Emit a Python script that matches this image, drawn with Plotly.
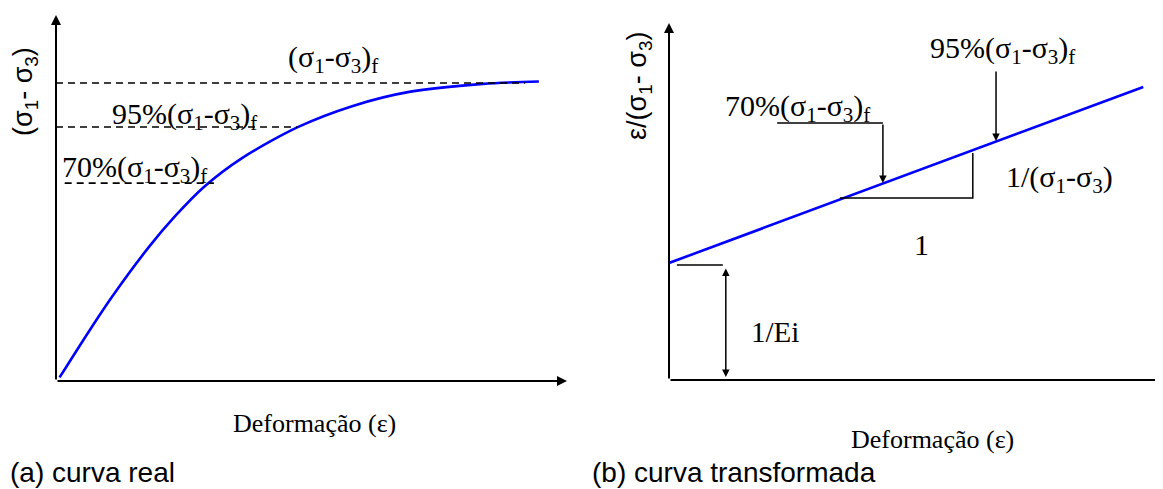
import plotly.graph_objects as go

# page is shown with the browser's default 8px body margin
OFF = 8
PAGE_W, PAGE_H = 1163, 489
W, H = PAGE_W - OFF, PAGE_H - OFF

# ---------------- data (arbitrary units) ----------------
# (a) real curve: deviator stress vs strain
left_strain = [0.07, 0.65, 1.09, 1.82, 2.33, 2.90, 3.64, 4.72, 5.81, 6.91, 8.36, 9.45]
left_stress = [0.012, 0.168, 0.281, 0.450, 0.553, 0.652, 0.748, 0.851, 0.923, 0.970, 0.997, 1.005]
# reference levels: failure, 95 %, 70 %
ref_levels = [1.0, 0.852, 0.664]
ref_x_start = [0.0, 0.0, 0.17]
ref_x_end = [9.18, 4.72, 3.09]
ref_labels = ["(σ<sub>1</sub>-σ<sub>3</sub>)<sub>f</sub>",
              "95%(σ<sub>1</sub>-σ<sub>3</sub>)<sub>f</sub>",
              "70%(σ<sub>1</sub>-σ<sub>3</sub>)<sub>f</sub>"]

# (b) transformed curve: strain/(deviator stress) vs strain
right_strain = [0.0, 9.6]
right_ratio = [1.17, 2.93]
intercept = 1.15            # 1/Ei
tri_x = [3.46, 6.15, 6.15]  # slope triangle
tri_y = [1.82, 1.82, 2.27]
p70_x, p70_y = 4.33, 1.97
p95_x, p95_y = 6.62, 2.39

left_range_x, left_range_y = [0, 10], [0, 1.228]
right_range_x, right_range_y = [0, 10], [0, 3.57]

SERIF = "Liberation Serif"
SANS = "Liberation Sans"
BLUE = "#0000ff"


def px(xp):
    return (xp - OFF) / W


def py(yp):
    return 1 - (yp - OFF) / H


fig = go.Figure()

# blue curves
fig.add_trace(go.Scatter(x=left_strain, y=left_stress, mode="lines",
                         line=dict(color=BLUE, width=2.6, shape="spline", smoothing=0.8),
                         xaxis="x", yaxis="y", hoverinfo="skip"))
fig.add_trace(go.Scatter(x=right_strain, y=right_ratio, mode="lines",
                         line=dict(color=BLUE, width=2.6),
                         xaxis="x2", yaxis="y2", hoverinfo="skip"))

# dashed reference lines
for lv, xs, xe in zip(ref_levels, ref_x_start, ref_x_end):
    fig.add_trace(go.Scatter(x=[xs, xe], y=[lv, lv], mode="lines",
                             line=dict(color="black", width=1.6, dash="7px,5px"),
                             xaxis="x", yaxis="y", hoverinfo="skip"))

# slope triangle
fig.add_trace(go.Scatter(x=tri_x, y=tri_y, mode="lines",
                         line=dict(color="black", width=1.5),
                         xaxis="x2", yaxis="y2", hoverinfo="skip"))
# 70% leader (horizontal part)
fig.add_trace(go.Scatter(x=[2.19, p70_x], y=[2.57, 2.57], mode="lines",
                         line=dict(color="black", width=1.5),
                         xaxis="x2", yaxis="y2", hoverinfo="skip"))
# intercept tick
fig.add_trace(go.Scatter(x=[0.16, 1.09], y=[intercept, intercept], mode="lines",
                         line=dict(color="black", width=1.5),
                         xaxis="x2", yaxis="y2", hoverinfo="skip"))

ann = []


def arrow(x, y, ax, ay, xr, yr, w=2, size=1.0, head=2, side="end"):
    ann.append(dict(x=x, y=y, ax=ax, ay=ay, xref=xr, yref=yr, axref=xr, ayref=yr,
                    text="", showarrow=True, arrowhead=head, arrowsize=size,
                    arrowwidth=w, arrowcolor="black", arrowside=side,
                    startarrowhead=head, startarrowsize=size, standoff=0, startstandoff=0))


# axes with arrows
arrow(0, left_range_y[1], 0, 0, "x", "y")
arrow(left_range_x[1], 0, 0, 0, "x", "y")
arrow(0, right_range_y[1], 0, 0, "x2", "y2")
ann.append(dict(x=right_range_x[1], y=0, ax=0, ay=0, xref="x2", yref="y2", axref="x2", ayref="y2",
                text="", showarrow=True, arrowhead=0, arrowwidth=2, arrowcolor="black", standoff=0))
# leader arrows
arrow(p70_x, p70_y, p70_x, 2.57, "x2", "y2", w=1.5, size=1.0)
arrow(p95_x, p95_y, p95_x, 3.10, "x2", "y2", w=1.5, size=1.0)
# 1/Ei double arrow
arrow(1.15, 0.03, 1.15, 1.13, "x2", "y2", w=1.5, size=1.0, side="end+start")


def text(t, x, y, xr, yr, font=SERIF, size=30, xa="center", ya="middle", angle=0):
    ann.append(dict(text=t, x=x, y=y, xref=xr, yref=yr, showarrow=False,
                    xanchor=xa, yanchor=ya, textangle=angle,
                    font=dict(family=font, size=size, color="black")))


# left labels
text(ref_labels[0], 5.42, 1.08, "x", "y")
text(ref_labels[1], 1.05, 0.889, "x", "y", xa="left")
text(ref_labels[2], 0.07, 0.711, "x", "y", xa="left")
# right labels
text(ref_labels[1], 6.76, 3.30, "x2", "y2")
text(ref_labels[2], 1.10, 2.72, "x2", "y2", xa="left")
text("1/(σ<sub>1</sub>-σ<sub>3</sub>)", 7.91, 2.01, "x2", "y2")
text("1", 5.12, 1.36, "x2", "y2")
text("1/Ei", 2.15, 0.48, "x2", "y2", size=29)

# axis titles & captions (paper coords)
text("(σ<sub>1</sub>- σ<sub>3</sub>)", px(25), py(92), "paper", "paper", font=SANS, size=27, angle=-90)
text("ε/(σ<sub>1</sub>- σ<sub>3</sub>)", px(639), py(86), "paper", "paper", font=SANS, size=27, angle=-90)
text("Deformação (ε)", px(314), py(423), "paper", "paper", size=26)
text("Deformação (ε)", px(932), py(439), "paper", "paper", size=26)
text("(a) curva real", 0.0, py(472), "paper", "paper", font=SANS, size=28, xa="left")
text("(b) curva transformada", px(590), py(472), "paper", "paper", font=SANS, size=28, xa="left")

ax_common = dict(visible=False, showgrid=False, zeroline=False, fixedrange=True)
fig.update_layout(
    width=W, height=H, margin=dict(l=0, r=0, t=0, b=0),
    paper_bgcolor="white", plot_bgcolor="white", showlegend=False,
    xaxis=dict(domain=[px(56), px(567)], range=left_range_x, **ax_common),
    yaxis=dict(domain=[py(381), py(15)], range=left_range_y, **ax_common),
    xaxis2=dict(domain=[px(669), 1.0], range=right_range_x, anchor="y2", **ax_common),
    yaxis2=dict(domain=[py(380), py(23)], range=right_range_y, anchor="x2", **ax_common),
    annotations=ann,
)
for tr in fig.data:
    tr.update(cliponaxis=False)

fig.write_html("out.html", config={"displayModeBar": False})
